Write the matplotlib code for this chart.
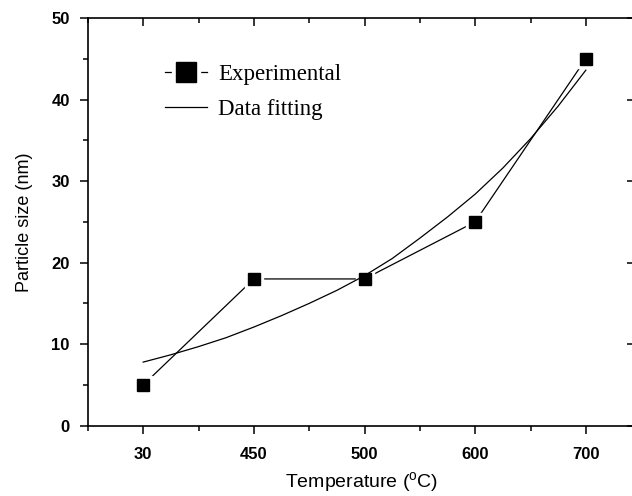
import numpy as np
import matplotlib
matplotlib.use('Agg')
import matplotlib.pyplot as plt
from matplotlib.lines import Line2D
from matplotlib.ticker import MultipleLocator, FixedLocator
from matplotlib.legend_handler import HandlerTuple

# category labels on x (equally spaced)
temps = ['30', '450', '500', '600', '700']
# measured particle size (nm)
size_exp = [5, 18, 18, 25, 45]
# fitted curve at quarter-category steps
fit_x = [0, 0.25, 0.5, 0.75, 1, 1.25, 1.5, 1.75, 2, 2.25, 2.5, 2.75, 3, 3.25, 3.5, 3.75, 4]
fit_y = [7.8, 8.7, 9.7, 10.8, 12.1, 13.5, 15.0, 16.6, 18.4, 20.5, 23.0, 25.6, 28.4, 31.6, 35.2, 39.2, 43.6]

plt.rcParams['font.family'] = ['Liberation Sans', 'DejaVu Sans']
plt.rcParams['mathtext.fontset'] = 'custom'
plt.rcParams['mathtext.rm'] = 'Liberation Sans'

fig = plt.figure(figsize=(6.32, 4.96), dpi=100)
ax = fig.add_axes([0.139, 0.1417, 0.865, 0.822])

xpos = np.arange(len(temps))
# experimental line, with a white gap around the squares
ax.plot(xpos, size_exp, color='black', lw=0.9, zorder=2)
ax.plot(xpos, size_exp, ls='none', marker='s', ms=13.5, mfc='white', mec='white', zorder=2.5)
ax.plot(fit_x, fit_y, color='black', lw=0.9, zorder=3)
ax.plot(xpos, size_exp, ls='none', marker='s', ms=8.6, mfc='black', mec='black', zorder=4)

ax.set_xlim(-0.5, 4.44)
ax.set_ylim(0, 50)
ax.set_xticks(xpos)
ax.set_xticklabels(temps)
ax.xaxis.set_minor_locator(FixedLocator(np.arange(-0.5, 4.5, 1.0)))
ax.yaxis.set_major_locator(MultipleLocator(10))
ax.yaxis.set_minor_locator(MultipleLocator(5))

for s in ['left', 'bottom', 'top']:
    ax.spines[s].set_linewidth(1.2)
ax.spines['right'].set_visible(False)

ax.tick_params(axis='both', which='major', direction='out', length=6, width=1.1,
               labelsize=12)
ax.tick_params(axis='x', which='major', pad=9)
ax.tick_params(axis='y', which='major', pad=7)
ax.tick_params(axis='both', which='minor', direction='out', length=3.5, width=1.1)
ax.tick_params(axis='x', which='both', top=True)
ax.tick_params(axis='y', which='major', right=True)
for t in ax.xaxis.get_major_ticks() + ax.xaxis.get_minor_ticks():
    t.tick2line.set_marker(matplotlib.lines.TICKDOWN)
for t in ax.yaxis.get_major_ticks():
    t.tick2line.set_marker(matplotlib.lines.TICKLEFT)
for lab in ax.get_xticklabels() + ax.get_yticklabels():
    lab.set_fontweight('bold')

ax.set_xlabel(r'Temperature ($^{\rm o}$C)', fontsize=14, labelpad=6)
ax.set_ylabel('Particle size (nm)', fontsize=13, labelpad=13)

# legend proxies (bigger square than in the plot, as in the original)
h_line = Line2D([], [], color='black', lw=0.9)
h_gap = Line2D([], [], ls='none', marker='s', ms=20, mfc='white', mec='white')
h_sq = Line2D([], [], ls='none', marker='s', ms=15, mfc='black', mec='black')
h_fit = Line2D([], [], color='black', lw=0.9)

leg = ax.legend([(h_line, h_gap, h_sq), h_fit], ['Experimental', 'Data fitting'],
                handler_map={tuple: HandlerTuple(ndivide=1)},
                loc='upper left', bbox_to_anchor=(0.141, 0.888), frameon=False,
                borderpad=0, borderaxespad=0,
                prop={'family': 'Liberation Serif', 'size': 16.5},
                handlelength=1.83, handletextpad=0.48, labelspacing=0.62)

fig.savefig('out.png', dpi=100)
